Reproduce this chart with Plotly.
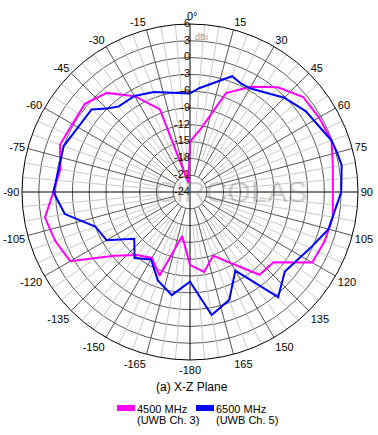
import plotly.graph_objects as go

# ---------------- data (angles in degrees, clockwise from top; gain in dBi) -------------
theta_4500 = [0, 10, 20, 30, 40, 50, 60, 70, 80, 90, 100, 110, 120, 130, 140, 150, 160, 170,
              180, 190, 200, 210, 220, 230, 240, 250, 260, 270, 280, 290, 300, 310, 320, 330,
              340, 350]
gain_4500 = [-15.0, -12.4, -5.2, -2.3, 0.4, 2.4, 2.6, 2.9, 1.9, 1.5, 1.9, 1.6, 1.2, -4.5, -4.7,
             -9.3, -11.9, -9.5, -11.0, -16.0, -8.1, -10.4, -9.3, -6.3, 0.7, 1.6, 2.3, 0.4, -0.5,
             0.7, 0.25, 0.5, -0.9, -4.25, -8.3, -22.4]

theta_6500 = [0, 5, 20, 25, 30, 45, 55, 65, 70, 75, 80, 90, 105, 115, 130, 140, 150, 160, 170,
              180, 190, 200, 210, 220, 230, 240, 250, 260, 270, 280, 290, 300, 310, 315, 320,
              330, 340, 350]
gain_6500 = [-6.4, -5.4, -2.0, -2.6, -2.6, -0.2, 1.2, 2.1, 2.9, 3.2, 3.5, 3.0, 1.6, -0.3, -1.9,
             0.5, -7.8, -3.5, -1.7, -8.0, -5.3, -7.2, -10.1, -8.6, -11.0, -6.8, -6.0, -1.3, 0.4,
             -0.2, 0.0, -0.9, -1.05, -2.9, -4.1, -4.2, -5.0, -6.0]

radial_ticks = list(range(-24, 7, 3))
radial_labels = [str(v) for v in radial_ticks]
angle_ticks = list(range(0, 360, 15))
angle_labels = ["" if a == 0 else (str(a) if a < 180 else str(a - 360)) for a in angle_ticks]
zero_label = "0°"

series_names = ["4500 MHz", "6500 MHz"]
series_sub = ["(UWB Ch. 3)", "(UWB Ch. 5)"]
series_colors = ["#ff00ff", "#0000ff"]

R_MIN, R_MAX = -24, 6
FONT = "Liberation Sans, Arial, sans-serif"

fig = go.Figure()

# light 5-degree spokes and dark 15-degree spokes
light_r, light_t, dark_r, dark_t = [], [], [], []
for a in range(0, 360, 5):
    if a % 90 == 0:
        continue
    if a % 15 == 0:
        dark_r += [-21, R_MAX, None]
        dark_t += [a, a, None]
    else:
        light_r += [-18, R_MAX, None]
        light_t += [a, a, None]
fig.add_trace(go.Scatterpolar(r=light_r, theta=light_t, mode="lines",
                              line=dict(color="#c8c8c8", width=1), hoverinfo="skip",
                              showlegend=False, connectgaps=False))
fig.add_trace(go.Scatterpolar(r=dark_r, theta=dark_t, mode="lines",
                              line=dict(color="#555555", width=1), hoverinfo="skip",
                              showlegend=False, connectgaps=False))
# black axis cross
fig.add_trace(go.Scatterpolar(r=[R_MAX, R_MAX, None, R_MAX, R_MAX],
                              theta=[0, 180, None, 90, 270], mode="lines",
                              line=dict(color="black", width=1), hoverinfo="skip",
                              showlegend=False, connectgaps=False))

for th, g, name, col in [(theta_4500, gain_4500, series_names[0], series_colors[0]),
                         (theta_6500, gain_6500, series_names[1], series_colors[1])]:
    fig.add_trace(go.Scatterpolar(r=g + [g[0]], theta=th + [th[0]], mode="lines",
                                  line=dict(color=col, width=2), name=name,
                                  showlegend=False))

# radial tick labels, left of the 0-degree line
fig.add_trace(go.Scatterpolar(r=radial_ticks, theta=[0] * len(radial_ticks), mode="text",
                              text=radial_labels, textposition="middle left",
                              textfont=dict(size=11, color="black", family=FONT),
                              hoverinfo="skip", showlegend=False, cliponaxis=False))

fig.update_layout(
    width=378, height=435,
    margin=dict(l=0, r=0, t=0, b=0),
    paper_bgcolor="white",
    font=dict(family=FONT, size=11, color="black"),
    polar=dict(
        domain=dict(x=[22 / 378, 358 / 378], y=[75 / 435, 411 / 435]),
        bgcolor="white",
        angularaxis=dict(rotation=90, direction="clockwise", tickmode="array",
                         tickvals=angle_ticks, ticktext=angle_labels, showgrid=False,
                         showline=True, linecolor="black", linewidth=1, ticks="",
                         tickfont=dict(size=11, color="black", family=FONT)),
        radialaxis=dict(range=[R_MIN, R_MAX], tickmode="array", tickvals=radial_ticks,
                        showticklabels=False, angle=90, showline=False, ticks="",
                        gridcolor="#5a5a5a", gridwidth=1),
    ),
)

# 0° label above the top of the circle
fig.add_annotation(x=192 / 378, y=1 - 8 / 435, xref="paper", yref="paper",
                   text=zero_label, showarrow=False,
                   font=dict(size=11, color="black", family=FONT))
# watermark
fig.add_annotation(x=230 / 378, y=1 - 191 / 435, xref="paper", yref="paper",
                   text="CIRCOLAS", showarrow=False,
                   font=dict(size=30, color="rgba(120,120,120,0.35)", family=FONT))
# dBi label
fig.add_annotation(x=193 / 378, y=1 - 30 / 435, xref="paper", yref="paper", xanchor="left",
                   text="dBi", showarrow=False, font=dict(size=9, color="#a0a0a0", family=FONT))
# title
fig.add_annotation(x=192 / 378, y=1 - 396 / 435, xref="paper", yref="paper",
                   text="(a) X-Z Plane", showarrow=False,
                   font=dict(size=12, color="black", family=FONT))
# legend
sw_x = [117, 196]
for i in range(2):
    fig.add_shape(type="rect", xref="paper", yref="paper",
                  x0=sw_x[i] / 378, x1=(sw_x[i] + 18) / 378,
                  y0=1 - 411 / 435, y1=1 - 405 / 435,
                  fillcolor=series_colors[i], line=dict(width=0))
    fig.add_annotation(x=(sw_x[i] + 18) / 378, y=1 - 408.5 / 435, xref="paper", yref="paper",
                       xanchor="left", yanchor="middle", text=series_names[i],
                       showarrow=False, font=dict(size=11, color="black", family=FONT))
    fig.add_annotation(x=(sw_x[i] + 18) / 378, y=1 - 420 / 435, xref="paper", yref="paper",
                       xanchor="left", yanchor="middle", text=series_sub[i],
                       showarrow=False, font=dict(size=11, color="black", family=FONT))

fig.write_html("out.html", config={"displayModeBar": False},
               post_script="document.body.style.margin='0';document.body.style.overflow='hidden';")
